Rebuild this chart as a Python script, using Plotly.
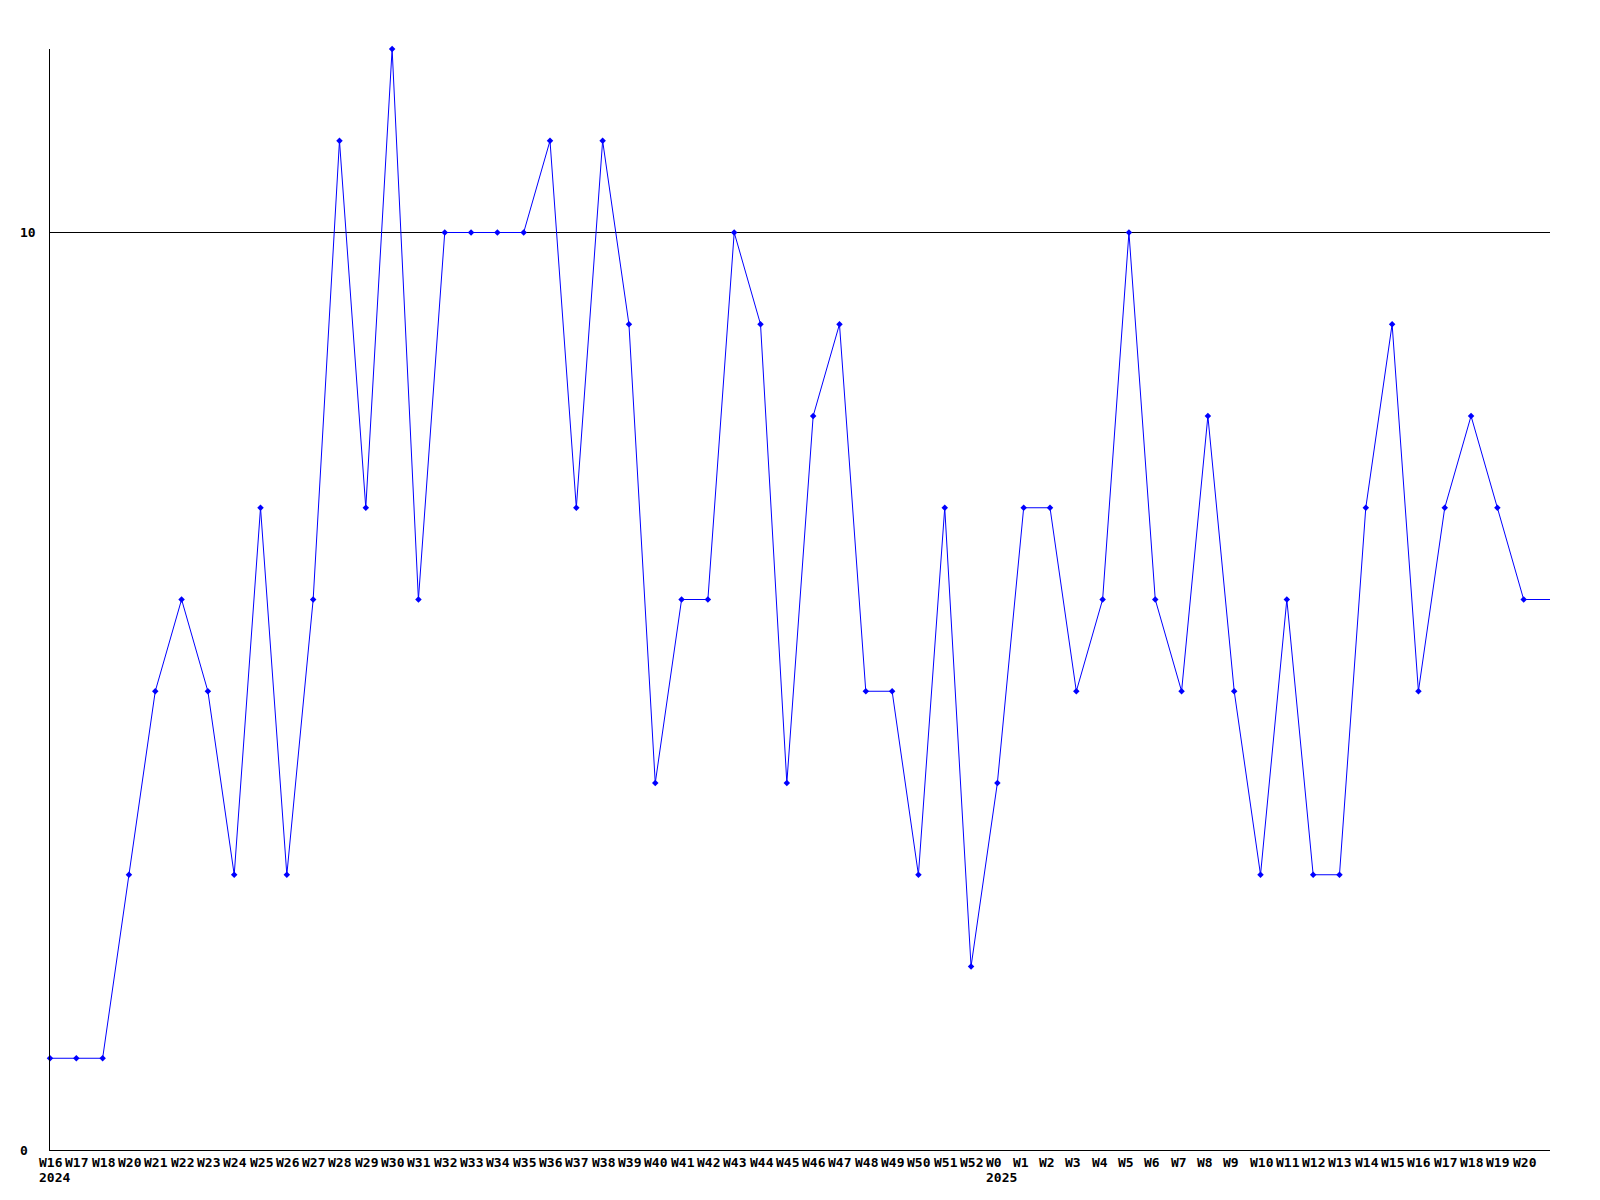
import plotly.graph_objects as go

weeks = ["W16", "W17", "W18", "W20", "W21", "W22", "W23", "W24", "W25", "W26",
         "W27", "W28", "W29", "W30", "W31", "W32", "W33", "W34", "W35", "W36",
         "W37", "W38", "W39", "W40", "W41", "W42", "W43", "W44", "W45", "W46",
         "W47", "W48", "W49", "W50", "W51", "W52",
         "W0", "W1", "W2", "W3", "W4", "W5", "W6", "W7", "W8", "W9", "W10",
         "W11", "W12", "W13", "W14", "W15", "W16", "W17", "W18", "W19", "W20"]
values = [1, 1, 1, 3, 5, 6, 5, 3, 7, 3,
          6, 11, 7, 12, 6, 10, 10, 10, 10, 11,
          7, 11, 9, 4, 6, 6, 10, 9, 4, 8,
          9, 5, 5, 3, 7, 2,
          4, 7, 7, 5, 6, 10, 6, 5, 8, 5, 3,
          6, 3, 3, 7, 9, 5, 7, 8, 7, 6]
year_labels = {0: "2024", 36: "2025"}
y_ticks = [0, 10]

n = len(weeks)
xs = list(range(n))

fig = go.Figure()
fig.add_trace(go.Scatter(
    x=xs, y=values, mode="lines+markers",
    line=dict(color="#0000ff", width=1),
    marker=dict(color="#0000ff", size=5, symbol="diamond"),
    cliponaxis=False, showlegend=False, hoverinfo="x+y"))
# line continues flat to the right edge of the plot
fig.add_trace(go.Scatter(
    x=[n - 1, n], y=[values[-1], values[-1]], mode="lines",
    line=dict(color="#0000ff", width=1), showlegend=False, hoverinfo="skip"))

font = dict(family="DejaVu Sans Mono", size=13, color="black", weight="bold")

annotations = []
# x tick labels, left-aligned slightly left of each point
for i, w in enumerate(weeks):
    annotations.append(dict(
        x=i, y=0, xref="x", yref="paper", text=w, showarrow=False,
        xanchor="left", yanchor="middle", yshift=-12, xshift=-13, font=font))
for idx, yl in year_labels.items():
    annotations.append(dict(
        x=idx, y=0, xref="x", yref="paper", text=yl, showarrow=False,
        xanchor="left", yanchor="middle", yshift=-27, xshift=-13, font=font))
for t in y_ticks:
    annotations.append(dict(
        x=-32 / 1500, y=t, xref="paper", yref="y", text=str(t), showarrow=False,
        xanchor="left", yanchor="middle", font=font))

fig.update_layout(
    width=1584, height=1184,
    margin=dict(l=42, r=42, t=41, b=42),
    plot_bgcolor="white", paper_bgcolor="white",
    font=font,
    annotations=annotations,
    xaxis=dict(
        range=[0, n], tickvals=xs, showticklabels=False,
        showgrid=False, zeroline=False, showline=True, linecolor="black",
        linewidth=1, ticks=""),
    yaxis=dict(
        range=[0, 12], tickvals=y_ticks, showticklabels=False,
        showgrid=True, gridcolor="black", gridwidth=1, zeroline=False,
        showline=True, linecolor="black", linewidth=1, ticks=""),
)

fig.write_html("out.html")
